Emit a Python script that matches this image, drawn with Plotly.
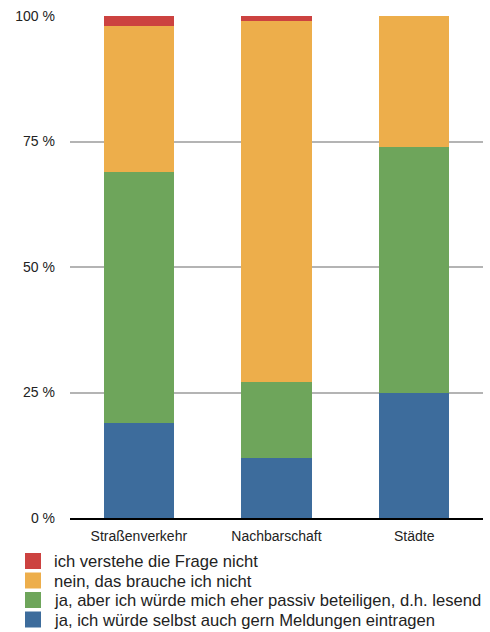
import plotly.graph_objects as go

categories = ["Straßenverkehr", "Nachbarschaft", "Städte"]
series_names = [
    "ja, ich würde selbst auch gern Meldungen eintragen",
    "ja, aber ich würde mich eher passiv beteiligen, d.h. lesend",
    "nein, das brauche ich nicht",
    "ich verstehe die Frage nicht",
]
blue_vals = [19, 12, 25]
green_vals = [50, 15, 49]
orange_vals = [29, 72, 26]
red_vals = [2, 1, 0]
tick_vals = [0, 25, 50, 75, 100]
tick_text = ["0 %", "25 %", "50 %", "75 %", "100 %"]

colors = ["#3D6C9C", "#6EA55B", "#EDAE4B", "#CC4240"]
values = [blue_vals, green_vals, orange_vals, red_vals]

fig = go.Figure()
for name, vals, col in zip(series_names, values, colors):
    fig.add_trace(go.Bar(x=categories, y=vals, name=name, marker_color=col,
                         marker_line_width=0, showlegend=False))

W, H = 490, 632
L, R, T, B = 70, 7, 16, 114
pw, ph = W - L - R, H - T - B

def px_x(x):
    return (x - L) / pw

def px_y(y):
    return (H - B - y) / ph

font = "Liberation Sans, Arial, Helvetica, sans-serif"

# custom legend (reversed order: top entry is last series)
shapes = []
annotations = []
row0, step, sq = 561, 19.5, 16
for i, (name, col) in enumerate(reversed(list(zip(series_names, colors)))):
    cy = row0 + i * step
    shapes.append(dict(type="rect", xref="paper", yref="paper",
                       x0=px_x(25), x1=px_x(25 + sq),
                       y0=px_y(cy - sq / 2), y1=px_y(cy + sq / 2),
                       fillcolor=col, line=dict(width=0)))
    annotations.append(dict(xref="paper", yref="paper",
                            x=px_x(52), y=px_y(cy + 0.5),
                            xanchor="left", yanchor="middle",
                            text=name, showarrow=False,
                            font=dict(size=16.6, color="#222222", family=font)))

fig.update_layout(
    barmode="stack",
    bargap=0.49,
    width=W, height=H,
    margin=dict(l=L, r=R, t=T, b=B, autoexpand=False),
    plot_bgcolor="white", paper_bgcolor="white",
    font=dict(family=font, size=14, color="#222222"),
    showlegend=False,
    shapes=shapes,
    annotations=annotations,
)
fig.update_yaxes(
    range=[0, 100], tickvals=tick_vals, ticktext=tick_text,
    showgrid=True, gridcolor="#B4B4B4", gridwidth=1.5,
    zeroline=False, showline=False, ticks="",
    ticklabelstandoff=14, fixedrange=True,
)
fig.update_xaxes(
    showline=True, linecolor="#000000", linewidth=1.5,
    ticks="", ticklabelstandoff=4, fixedrange=True,
)

fig.write_html("out.html")
